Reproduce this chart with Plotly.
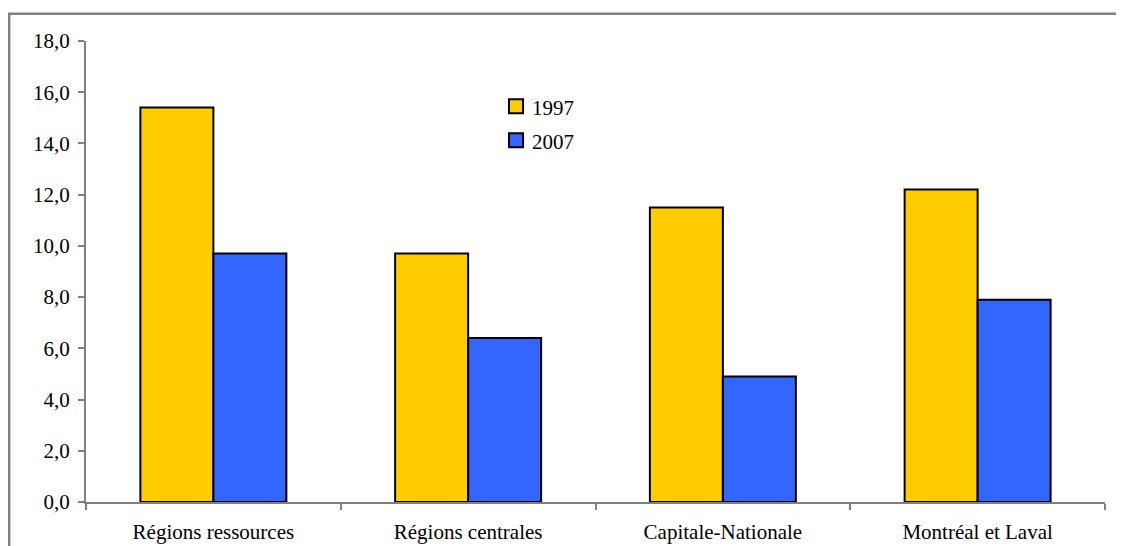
import plotly.graph_objects as go

regions = ['Régions ressources', 'Régions centrales', 'Capitale-Nationale', 'Montréal et Laval']
values_1997 = [15.4, 9.7, 11.5, 12.2]
values_2007 = [9.7, 6.4, 4.9, 7.9]
y_ticks = [0, 2, 4, 6, 8, 10, 12, 14, 16, 18]
years = ['1997', '2007']
colors = ['#FFCC00', '#3366FF']

axis_grey = '#808080'
font_family = 'Liberation Serif, Times New Roman, serif'

fig = go.Figure()
for year, vals, col in zip(years, [values_1997, values_2007], colors):
    fig.add_trace(go.Bar(x=regions, y=vals, name=year, showlegend=False,
                         marker=dict(color=col, line=dict(color='black', width=2))))

# outer frame of the original chart (runs off the right/bottom edge)
fig.add_shape(type='rect', xref='paper', yref='paper',
              x0=-0.0754, x1=1.2, y0=-0.3, y1=1.0591,
              line=dict(color=axis_grey, width=2.5), fillcolor='rgba(0,0,0,0)')

# legend drawn by hand to match the boxed squares of the original
leg_rows = [(0.8432, 0.8735, 0.8553), (0.7695, 0.7999, 0.7817)]
for (y0, y1, ty), year, col in zip(leg_rows, years, colors):
    fig.add_shape(type='rect', xref='paper', yref='paper',
                  x0=0.4151, x1=0.4289, y0=y0, y1=y1,
                  line=dict(color='black', width=2), fillcolor=col)
    fig.add_annotation(xref='paper', yref='paper', x=0.4357, y=ty,
                       xanchor='left', yanchor='middle', text=year,
                       showarrow=False, font=dict(size=21))

# page body has an 8px margin, so shrink the figure and margins by that much
fig.update_layout(
    width=1116, height=538,
    margin=dict(l=78, r=19, t=33, b=44),
    paper_bgcolor='white', plot_bgcolor='white',
    font=dict(family=font_family, size=21, color='black'),
    separators=', ',
    barmode='group', bargap=0.427, bargroupgap=0,
)
fig.update_xaxes(showline=True, linecolor=axis_grey, linewidth=2,
                 ticks='outside', tickson='boundaries', ticklen=6,
                 tickcolor=axis_grey, tickwidth=2, showgrid=False,
                 ticklabelstandoff=10, tickfont=dict(size=21), automargin=False)
fig.update_yaxes(range=[0, 18], tickvals=y_ticks, tickformat='.1f',
                 showline=True, linecolor=axis_grey, linewidth=2,
                 ticks='outside', ticklen=6, tickcolor=axis_grey, tickwidth=2,
                 showgrid=False, zeroline=False, ticklabelstandoff=4,
                 tickfont=dict(size=21), automargin=False)

fig.write_html("out.html")
